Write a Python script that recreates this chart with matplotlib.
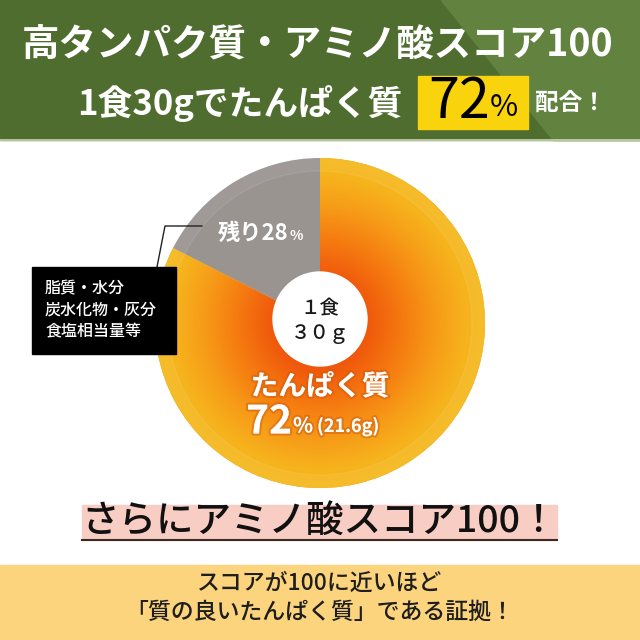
import numpy as np
import matplotlib.pyplot as plt
import matplotlib.patheffects as pe
from matplotlib.patches import Rectangle, Circle, Polygon, Wedge
from matplotlib.colors import LinearSegmentedColormap

plt.rcParams['font.family'] = ['Noto Sans CJK JP', 'DejaVu Sans']

# データ
slice_names = ['たんぱく質', '残り']
percent_values = [72, 28]
# 画像上で描かれている扇形の割合（見た目どおり）
drawn_share = [82.5, 17.5]
protein_grams = 21.6
serving_grams = 30
other_items = ['脂質・水分', '炭水化物・灰分', '食塩相当量等']
amino_score = 100

H = 640


def Y(y):
    # 上からのピクセル位置 -> 座標
    return H - y


fig = plt.figure(figsize=(6.4, 6.4), dpi=100)
ax = fig.add_axes([0, 0, 1, 1])

# 上部の緑バナー
ax.add_patch(Rectangle((0, Y(140)), 640, 140, color='#4f6d2f', zorder=1))
ax.add_patch(Polygon([(441, Y(0)), (640, Y(0)), (640, Y(140)), (553, Y(140))],
                     closed=True, color='#62823f', zorder=1))
ax.plot([0, 640], [Y(140), Y(140)], color='#c9d7b2', lw=1.2, zorder=2)

ax.text(318, Y(44), '高タンパク質・アミノ酸スコア' + str(amino_score), fontsize=27,
        color='white', weight='bold', ha='center', va='center', zorder=3)
ax.text(402, Y(103), f'1食{serving_grams}gでたんぱく質', fontsize=25, color='white',
        weight='bold', ha='right', va='center', zorder=3)
ax.add_patch(Rectangle((418, Y(129)), 110, 53, color='#f9d30b', zorder=2))
ax.text(490, Y(102), str(percent_values[0]), fontsize=40, color='black',
        ha='right', va='center', zorder=3)
ax.text(490, Y(108), '%', fontsize=22, color='black', ha='left', va='center', zorder=3)
ax.text(535, Y(103), '配合！', fontsize=17, color='white', weight='bold',
        ha='left', va='center', zorder=3)

# 円グラフ
cx, cy, R = 320, Y(323), 165
wedges, _ = ax.pie(drawn_share, colors=['#f39a18', '#9a9491'], startangle=90,
                   counterclock=False, center=(cx, cy), radius=R,
                   wedgeprops=dict(linewidth=0))
for w in wedges:
    w.set_zorder(2)

# たんぱく質部分の放射グラデーション
grad = LinearSegmentedColormap.from_list('grad', [
    (0.0, '#ee4a0c'), (0.30, '#f05a0c'), (0.50, '#f57a10'),
    (0.72, '#f79d18'), (0.90, '#f6b41d'), (1.0, '#f5b91d')])
n = 400
xs = np.linspace(cx - R, cx + R, n)
ys = np.linspace(cy - R, cy + R, n)
gx, gy = np.meshgrid(xs, ys)
rr = np.clip(np.hypot(gx - cx, gy - cy) / R, 0, 1)
img = ax.imshow(grad(rr), extent=(cx - R, cx + R, cy - R, cy + R), origin='lower',
                zorder=3, interpolation='bilinear')
img.set_clip_path(wedges[0])

# 外周のリング
ax.add_patch(Wedge((cx, cy), R, 0, 360, width=13, facecolor='white', alpha=0.06,
                   lw=0, zorder=4))
ax.add_patch(Circle((cx, cy), R - 13, fill=False, edgecolor='#ffffff', alpha=0.08,
                    lw=1, zorder=4))

# 中央の白丸
ax.add_patch(Circle((cx, Y(319)), 47, color='white', zorder=5))
ax.text(cx, Y(309), '１食', fontsize=14, color='#1a1a1a', weight='medium',
        ha='center', va='center', zorder=6)
ax.text(cx, Y(334), '３０ｇ', fontsize=14, color='#1a1a1a', weight='medium',
        ha='center', va='center', zorder=6)

glow = [pe.withStroke(linewidth=3, foreground=(0.8, 0.35, 0.05, 0.45))]
ax.text(cx, Y(387), slice_names[0], fontsize=20, color='white', weight='bold',
        ha='center', va='center', zorder=6, path_effects=glow)
ax.text(292, Y(422), str(percent_values[0]), fontsize=28, color='white', weight='bold',
        ha='right', va='center', zorder=6, path_effects=glow)
ax.text(293, Y(426), '%', fontsize=15, color='white', weight='bold',
        ha='left', va='center', zorder=6, path_effects=glow)
ax.text(317, Y(426), f'({protein_grams}g)', fontsize=13, color='white', weight='bold',
        ha='left', va='center', zorder=6, path_effects=glow)

ax.text(288, Y(233), f'{slice_names[1]}{percent_values[1]}', fontsize=16, color='white',
        weight='bold', ha='right', va='center', zorder=6)
ax.text(289, Y(236), '%', fontsize=10, color='white', weight='bold',
        ha='left', va='center', zorder=6)

# 黒いボックスと引き出し線
ax.plot([157, 165, 202], [Y(267), Y(226), Y(226)], color='#222222', lw=1, zorder=6)
ax.add_patch(Rectangle((32, Y(354)), 144, 87, color='black', zorder=6))
for i, item in enumerate(other_items):
    ax.text(45, Y(289 + 21.5 * i), item, fontsize=11.5, color='white', weight='medium',
            ha='left', va='center', zorder=7)

# ピンクの帯
ax.add_patch(Rectangle((82, Y(540)), 475, 35, color='#f8cdc4', zorder=2))
ax.plot([82, 557], [Y(540), Y(540)], color='#3b2b22', lw=1.5, zorder=3)
ax.text(320, Y(521), f'さらにアミノ酸スコア{amino_score}！', fontsize=27,
        color='#111111', weight='medium', ha='center', va='center', zorder=3)

# 下部の黄色帯
ax.add_patch(Rectangle((0, 0), 640, 75, color='#fdd47e', zorder=1))
ax.text(320, Y(583), f'スコアが{amino_score}に近いほど', fontsize=16.5, color='#1e1e1e',
        weight='medium', ha='center', va='center', zorder=3)
ax.text(320, Y(612), '「質の良いたんぱく質」である証拠！', fontsize=16.5,
        color='#1e1e1e', weight='medium', ha='center', va='center', zorder=3)

ax.set_xlim(0, 640)
ax.set_ylim(0, 640)
ax.set_aspect('auto')
ax.axis('off')

fig.savefig('out.png', dpi=100)
